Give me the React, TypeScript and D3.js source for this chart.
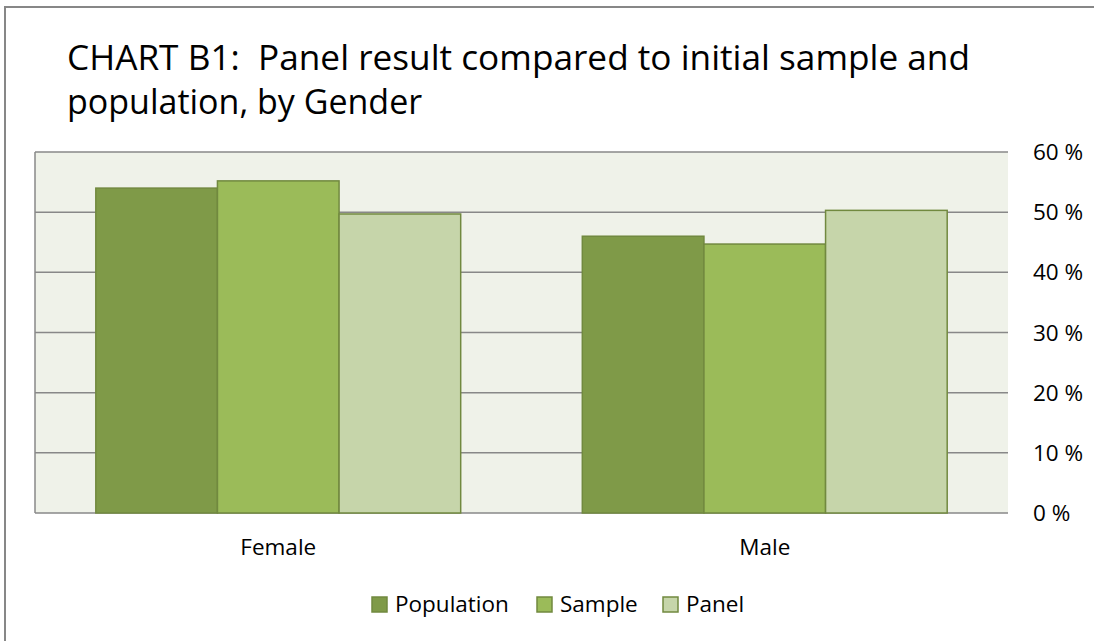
import * as d3 from 'd3';

const categories = ['Female', 'Male'];
const seriesNames = ['Population', 'Sample', 'Panel'];
const population = [54.0, 46.0];
const sample = [55.2, 44.7];
const panel = [49.7, 50.3];
const yTicks = [0, 10, 20, 30, 40, 50, 60];
const titleLines = [
  'CHART B1:  Panel result compared to initial sample and',
  'population, by Gender',
];

const seriesValues = [population, sample, panel];
const fills = ['#7f9a48', '#9bbb59', '#c6d5aa'];
const FONT = '"Open Sans", sans-serif';

export default function App() {
  const width = 1094;
  const height = 641;
  const plot = { left: 35, right: 1008, top: 152, bottom: 513 };

  const x0 = d3.scaleBand()
    .domain(categories)
    .range([plot.left, plot.right])
    .paddingInner(0.25)
    .paddingOuter(0.125);

  const x1 = d3.scaleBand()
    .domain(seriesNames)
    .range([0, x0.bandwidth()])
    .padding(0);

  const y = d3.scaleLinear()
    .domain([0, 60])
    .range([plot.bottom, plot.top]);

  // legend swatch positions
  const legendX = [372, 537, 663];

  return (
    <svg
      width={width}
      height={height}
      style={{ position: 'absolute', left: 0, top: 0, background: '#fff' }}
    >
      {/* chart frame */}
      <rect x={5} y={7} width={width} height={height} fill="#fff" stroke="#878787" strokeWidth={2} />

      {/* title */}
      {titleLines.map((line, i) => (
        <text
          key={i}
          x={67}
          y={70 + i * 44}
          fontFamily={FONT}
          fontSize={34}
          fill="#000"
          style={{ whiteSpace: 'pre' }}
          {...(i === 0 ? { textLength: 903, lengthAdjust: 'spacingAndGlyphs' } : {})}
        >
          {line}
        </text>
      ))}

      {/* plot area */}
      <rect
        x={plot.left}
        y={plot.top}
        width={plot.right - plot.left}
        height={plot.bottom - plot.top}
        fill="#eff2e9"
      />

      {/* gridlines */}
      {yTicks.map(t => (
        <line
          key={t}
          x1={plot.left}
          x2={plot.right}
          y1={y(t)}
          y2={y(t)}
          stroke="#888"
          strokeWidth={1.5}
        />
      ))}
      <line x1={plot.left} x2={plot.left} y1={plot.top} y2={plot.bottom} stroke="#888" strokeWidth={1.5} />

      {/* bars */}
      {categories.map((c, ci) => (
        <g key={c} transform={`translate(${x0(c)},0)`}>
          {seriesNames.map((s, si) => (
            <rect
              key={s}
              x={x1(s)!}
              y={y(seriesValues[si][ci])}
              width={x1.bandwidth()}
              height={y(0) - y(seriesValues[si][ci])}
              fill={fills[si]}
              stroke="#71893f"
              strokeWidth={1.5}
            />
          ))}
        </g>
      ))}

      {/* y labels on right */}
      {yTicks.map(t => (
        <text
          key={t}
          x={1033}
          y={y(t)}
          dy="0.36em"
          fontFamily={FONT}
          fontSize={22.5}
          fill="#000"
        >
          {`${t} %`}
        </text>
      ))}

      {/* category labels */}
      {categories.map(c => (
        <text
          key={c}
          x={x0(c)! + x0.bandwidth() / 2}
          y={555}
          textAnchor="middle"
          fontFamily={FONT}
          fontSize={22.5}
          fill="#000"
        >
          {c}
        </text>
      ))}

      {/* legend */}
      {seriesNames.map((name, i) => (
        <g key={name}>
          <rect x={legendX[i]} y={597} width={15} height={15} fill={fills[i]} stroke="#71893f" strokeWidth={1.5} />
          <text x={legendX[i] + 23} y={612} fontFamily={FONT} fontSize={22.5} fill="#000">
            {name}
          </text>
        </g>
      ))}
    </svg>
  );
}
